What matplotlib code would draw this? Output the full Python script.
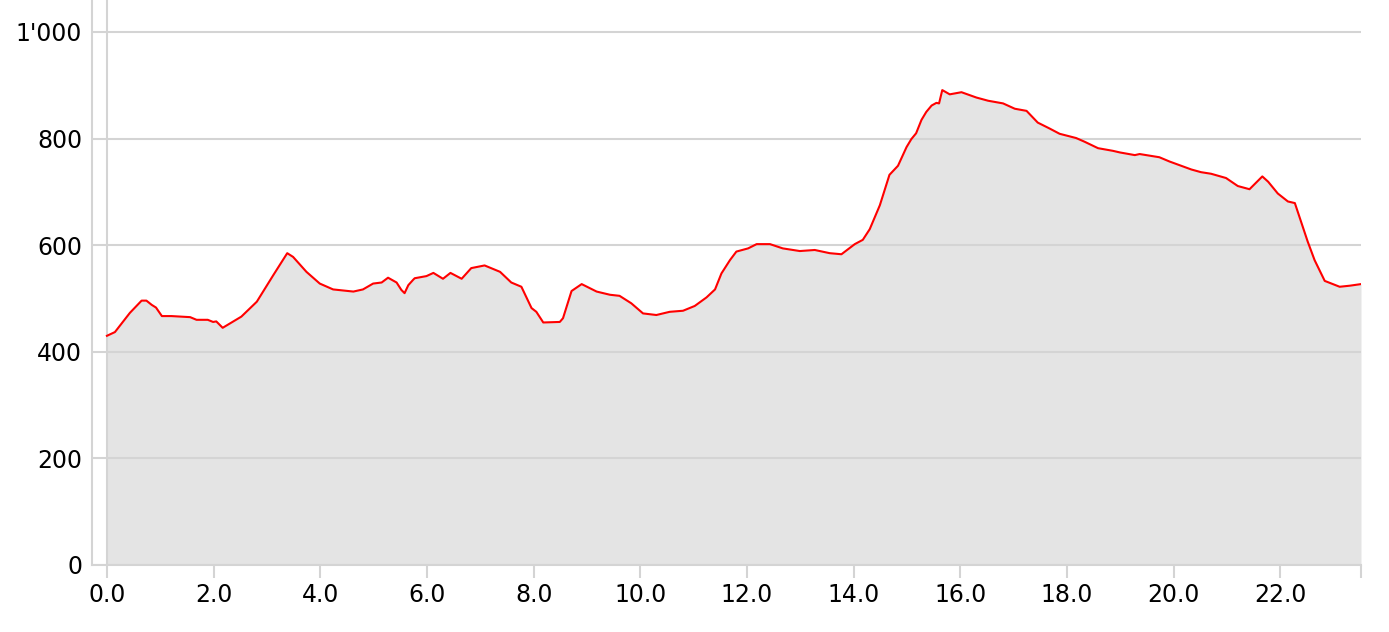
import matplotlib
matplotlib.use('Agg')
import matplotlib.pyplot as plt
from matplotlib.ticker import FuncFormatter

# distance (km) and elevation (m)
dist = [0.0, 0.15, 0.43, 0.65, 0.74, 0.84, 0.92, 1.03, 1.21, 1.56, 1.68, 1.89, 1.99, 2.05,
        2.17, 2.52, 2.81, 3.12, 3.38, 3.49, 3.74, 3.99, 4.24, 4.62, 4.80, 4.99, 5.15, 5.27,
        5.43, 5.52, 5.58, 5.65, 5.74, 5.77, 5.99, 6.12, 6.30, 6.44, 6.65, 6.83, 7.08, 7.37,
        7.58, 7.77, 7.96, 8.05, 8.18, 8.49, 8.55, 8.71, 8.90, 9.18, 9.43, 9.61, 9.83, 10.05,
        10.30, 10.55, 10.80, 11.02, 11.24, 11.40, 11.52, 11.68, 11.80, 12.02, 12.18, 12.43,
        12.67, 12.99, 13.27, 13.55, 13.77, 14.02, 14.17, 14.30, 14.49, 14.67, 14.83, 14.99,
        15.08, 15.17, 15.27, 15.36, 15.46, 15.55, 15.60, 15.66, 15.80, 16.02, 16.30, 16.52,
        16.80, 17.02, 17.24, 17.45, 17.67, 17.86, 18.17, 18.33, 18.58, 18.86, 18.99, 19.27,
        19.36, 19.73, 19.92, 20.33, 20.51, 20.70, 20.98, 21.20, 21.42, 21.66, 21.77, 21.95,
        22.14, 22.27, 22.51, 22.64, 22.83, 23.11, 23.30, 23.51]
elev = [430, 437, 473, 496, 496, 488, 483, 467, 467, 465, 460, 460, 456, 457,
        445, 466, 494, 544, 585, 578, 550, 528, 517, 513, 517, 528, 530, 539,
        530, 516, 510, 525, 535, 538, 542, 548, 537, 548, 537, 557, 562, 550,
        530, 522, 482, 475, 455, 456, 463, 514, 527, 513, 507, 505, 491, 472,
        469, 475, 477, 486, 502, 517, 547, 572, 588, 594, 602, 602,
        594, 589, 591, 585, 583, 602, 610, 630, 675, 732, 749, 784,
        799, 810, 835, 850, 862, 867, 866, 891, 883, 887, 877, 871,
        866, 856, 852, 830, 819, 809, 801, 794, 782, 777, 774, 769,
        771, 765, 757, 742, 737, 734, 726, 711, 705, 729, 719, 697,
        682, 679, 607, 572, 533, 522, 524, 527]

x_ticks = [0, 2, 4, 6, 8, 10, 12, 14, 16, 18, 20, 22]
y_ticks = [0, 200, 400, 600, 800, 1000]

grey = '#d4d4d4'

fig = plt.figure(figsize=(13.89, 6.32), dpi=100)
ax = fig.add_axes([92 / 1389, 67 / 632, (1361 - 92) / 1389, 565 / 632])

ax.fill_between(dist, 0, elev, color='#e4e4e4', lw=0, zorder=1)
ax.plot(dist, elev, color='red', lw=1.5, zorder=3)

ax.set_xlim(-0.28, dist[-1])
ax.set_ylim(0, 1060)

ax.set_xticks(x_ticks + [dist[-1]])
ax.set_xticklabels(['%.1f' % t for t in x_ticks] + [''])
ax.set_yticks(y_ticks)
ax.yaxis.set_major_formatter(FuncFormatter(lambda v, p: '{:,.0f}'.format(v).replace(',', "'")))

ax.grid(axis='y', color=grey, lw=1.5, zorder=0)
ax.axvline(0, color=grey, lw=1.5, zorder=2)

for s in ['top', 'right']:
    ax.spines[s].set_visible(False)
for s in ['left', 'bottom']:
    ax.spines[s].set_color(grey)
    ax.spines[s].set_linewidth(1.5)

ax.tick_params(axis='x', length=9, width=1.5, color=grey, labelsize=17, pad=4)
ax.tick_params(axis='y', length=0, labelsize=17, pad=7)

fig.savefig('out.png', dpi=100)
